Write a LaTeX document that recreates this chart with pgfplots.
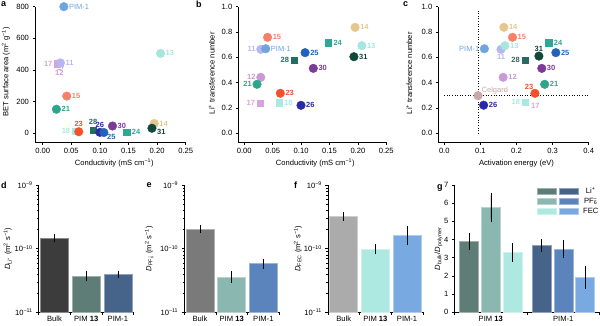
\documentclass[border=0pt]{standalone}
\usepackage{fontspec}
\setmainfont{Liberation Sans}
\usepackage{pgfplots}
\pgfplotsset{compat=1.18}

\definecolor{cPIM}{HTML}{70A4DE}
\definecolor{c11}{HTML}{B6B6F0}
\definecolor{c12}{HTML}{C99AD6}
\definecolor{c13}{HTML}{A6E6DE}
\definecolor{c14}{HTML}{E6C68C}
\definecolor{c15}{HTML}{F7806A}
\definecolor{c17}{HTML}{D8A2DC}
\definecolor{c18}{HTML}{A8EAE2}
\definecolor{c21}{HTML}{2AA68A}
\definecolor{c23}{HTML}{F5502A}
\definecolor{c24}{HTML}{2FA696}
\definecolor{c25}{HTML}{2462B8}
\definecolor{c26}{HTML}{2A2AA6}
\definecolor{c28}{HTML}{226E60}
\definecolor{c30}{HTML}{7C3A9A}
\definecolor{c31}{HTML}{10483A}
\definecolor{cCel}{HTML}{C8A8A8}
% bars
\definecolor{dB}{HTML}{3C3C3C}
\definecolor{dT}{HTML}{5E7D77}
\definecolor{dP}{HTML}{46638A}
\definecolor{eB}{HTML}{7A7A7A}
\definecolor{eT}{HTML}{8AB7B0}
\definecolor{eP}{HTML}{5A84BB}
\definecolor{fB}{HTML}{ABABAB}
\definecolor{fT}{HTML}{ADE9E1}
\definecolor{fP}{HTML}{79A9E1}

\newcommand{\tf}{\fontsize{7.6}{8.8}\selectfont}
\newcommand{\lbf}{\bfseries\fontsize{7.5}{8.5}\selectfont}

\tikzset{
  lR/.style={anchor=west, xshift=4.5pt},
  lL/.style={anchor=east, xshift=-4.5pt},
  lA/.style={anchor=south, yshift=4.2pt},
  lB/.style={anchor=north, yshift=-4.2pt},
  lBR/.style={anchor=north west, xshift=2.5pt, yshift=-1pt},
  lRd/.style={anchor=west, xshift=4.5pt, yshift=-4pt},
  lRs/.style={anchor=west, xshift=4.5pt, yshift=-2pt},
  lAL/.style={anchor=south east, xshift=-1pt, yshift=3pt},
  lAR/.style={anchor=south west, xshift=3pt, yshift=1pt},
}

\pgfplotsset{
  mC/.style={mark=*, mark size=4.3pt, mark options={draw=#1, fill=#1}},
  mS/.style={mark=square*, mark size=4.1pt, mark options={draw=white, fill=#1, line width=0.4pt}},
  base/.style={
    scale only axis,
    axis x line*=bottom, axis y line*=left,
    tick align=outside,
    major tick length=2.5pt, minor tick length=1.5pt,
    every tick/.style={black, line width=0.5pt},
    axis line style={black, line width=0.5pt},
    font=\tf,
    tick label style={font=\tf},
    /pgf/number format/assume math mode=true,
    clip=false,
  },
  ylab/.style 2 args={every axis y label/.style={at={(rel axis cs:0,#2)}, xshift=#1, rotate=90, anchor=center, font=\tf}},
  xlab/.style 2 args={every axis x label/.style={at={(rel axis cs:#1,0)}, yshift=#2, anchor=center, font=\tf}},
}

\newcommand{\pnt}[6]{\addplot[only marks, #1=#2, nodes near coords, point meta=explicit symbolic,
  every node near coord/.style={text=#2, font=\lbf, inner sep=0.5pt, #6}] coordinates {(#3,#4) [#5]};}

\newcommand{\lbar}[4]{\addplot[ybar, bar width=28pt, bar shift=0pt, fill=#1, draw=#1!60!white, line width=0.5pt,
  error bars/.cd, y dir=both, y explicit, error bar style={black,line width=0.5pt},
  error mark options={black, mark size=2.6pt, line width=0.5pt}] coordinates {(#2,#3) +- (0,#4)};}

\newcommand{\gbar}[4]{\addplot[ybar, bar width=19pt, bar shift=0pt, fill=#1, draw=#1!60!white, line width=0.5pt,
  error bars/.cd, y dir=both, y explicit, error bar style={black,line width=0.5pt},
  error mark options={black, mark size=2.6pt, line width=0.5pt}] coordinates {(#2,#3) +- (0,#4)};}

\begin{document}
\begin{tikzpicture}
\useasboundingbox (0,0) rectangle (600pt,325pt);

% panel letters
\node[font=\bfseries\fontsize{9}{10}\selectfont, anchor=north west, inner sep=0pt] at (1pt,324pt) {a};
\node[font=\bfseries\fontsize{9}{10}\selectfont, anchor=north west, inner sep=0pt] at (196pt,324pt) {b};
\node[font=\bfseries\fontsize{9}{10}\selectfont, anchor=north west, inner sep=0pt] at (403pt,324pt) {c};
\node[font=\bfseries\fontsize{9}{10}\selectfont, anchor=north west, inner sep=0pt] at (1pt,143pt) {d};
\node[font=\bfseries\fontsize{9}{10}\selectfont, anchor=north west, inner sep=0pt] at (146.5pt,143pt) {e};
\node[font=\bfseries\fontsize{9}{10}\selectfont, anchor=north west, inner sep=0pt] at (294pt,143pt) {f};
\node[font=\bfseries\fontsize{9}{10}\selectfont, anchor=north west, inner sep=0pt] at (437pt,141pt) {g};

% ---------------- a
\begin{axis}[base, at={(35pt,182.7pt)}, anchor=south west, width=150.7pt, height=135.6pt,
  xmin=-0.01346, xmax=0.25, ymin=-56.9, ymax=800,
  xtick={0,0.05,0.1,0.15,0.2,0.25}, ytick={0,200,400,600,800},
  xticklabel style={/pgf/number format/.cd, fixed, fixed zerofill, precision=2},
  xlabel={Conductivity (mS cm\textsuperscript{−1})},
  ylabel={BET surface area (m\textsuperscript{2} g\textsuperscript{−1})},
  xlab={0.526}{-21pt}, ylab={-29pt}{0.52}]
\pnt{mC}{cPIM}{0.037}{800}{\mdseries PIM-1}{lR}
\pnt{mC}{c13}{0.206}{505}{13}{lR}
\pnt{mC}{c12}{0.029}{428}{12}{lB}
\pnt{mS}{c17}{0.026}{440}{17}{lL}
\pnt{mC}{c11}{0.031}{445}{11}{lR}
\pnt{mC}{c15}{0.042}{235}{15}{lR}
\pnt{mC}{c21}{0.024}{152}{21}{lR}
\pnt{mS}{c18}{0.057}{15}{18}{lL}
\pnt{mC}{c23}{0.063}{10}{23}{lA}
\pnt{mS}{c28}{0.088}{22}{28}{lA}
\pnt{mC}{c26}{0.100}{6}{26}{lA}
\pnt{mC}{c25}{0.107}{5}{25}{lBR}
\pnt{mC}{c30}{0.122}{46}{30}{lR}
\pnt{mS}{c24}{0.147}{6}{24}{lR}
\pnt{mC}{c14}{0.195}{62}{14}{lR}
\pnt{mC}{c31}{0.191}{32}{31}{lRd}
\end{axis}

% ---------------- b
\begin{axis}[base, at={(238.3pt,182.7pt)}, anchor=south west, width=148pt, height=135.6pt,
  xmin=-0.01056, xmax=0.25, ymin=-0.071, ymax=1.0,
  xtick={0,0.05,0.1,0.15,0.2,0.25}, ytick={0,0.2,0.4,0.6,0.8,1.0},
  xticklabel style={/pgf/number format/.cd, fixed, fixed zerofill, precision=2},
  yticklabel style={/pgf/number format/.cd, fixed, fixed zerofill, precision=1},
  xlabel={Conductivity (mS cm\textsuperscript{−1})},
  ylabel={Li\textsuperscript{+} transference number},
  xlab={0.52}{-21pt}, ylab={-26.5pt}{0.51}]
\pnt{mC}{c14}{0.195}{0.837}{14}{lR}
\pnt{mC}{c15}{0.041}{0.758}{15}{lR}
\pnt{mS}{c24}{0.148}{0.716}{24}{lR}
\pnt{mC}{c13}{0.207}{0.692}{13}{lR}
\pnt{mC}{c11}{0.029}{0.663}{11}{lL}
\pnt{mC}{cPIM}{0.0377}{0.668}{\mdseries PIM-1}{lR}
\pnt{mC}{c25}{0.107}{0.637}{25}{lR}
\pnt{mC}{c31}{0.193}{0.605}{31}{lR}
\pnt{mS}{c28}{0.088}{0.579}{28}{lL}
\pnt{mC}{c30}{0.1215}{0.513}{30}{lR}
\pnt{mC}{c12}{0.029}{0.442}{12}{lL}
\pnt{mC}{c21}{0.0224}{0.387}{21}{lL}
\pnt{mC}{c23}{0.0634}{0.316}{23}{lR}
\pnt{mS}{c17}{0.028}{0.24}{17}{lL}
\pnt{mS}{c18}{0.061}{0.242}{18}{lR}
\pnt{mC}{c26}{0.0998}{0.221}{26}{lR}
\end{axis}

% ---------------- c
\begin{axis}[base, at={(438.3pt,182.7pt)}, anchor=south west, width=150.4pt, height=135.6pt,
  xmin=-0.0166, xmax=0.4, ymin=-0.071, ymax=1.0,
  xtick={0,0.1,0.2,0.3,0.4}, ytick={0,0.2,0.4,0.6,0.8,1.0},
  xticklabel style={/pgf/number format/.cd, fixed, fixed zerofill, precision=1},
  yticklabel style={/pgf/number format/.cd, fixed, fixed zerofill, precision=1},
  xlabel={Activation energy (eV)},
  ylabel={Li\textsuperscript{+} transference number},
  xlab={0.52}{-21pt}, ylab={-29pt}{0.51}]
\addplot[black, dotted, line width=0.6pt] coordinates {(0.093,0) (0.093,0.98)};
\addplot[black, dotted, line width=0.6pt] coordinates {(0,0.297) (0.4,0.297)};
\pnt{mC}{c14}{0.165}{0.837}{14}{lR}
\pnt{mC}{c15}{0.189}{0.758}{15}{lR}
\pnt{mS}{c24}{0.289}{0.716}{24}{lR}
\pnt{mC}{cPIM}{0.111}{0.668}{\mdseries PIM-1}{lL}
\pnt{mC}{c11}{0.157}{0.663}{11}{lB}
\pnt{mC}{c13}{0.168}{0.692}{13}{lR}
\pnt{mC}{c31}{0.262}{0.61}{31}{lA}
\pnt{mC}{c25}{0.309}{0.637}{25}{lR}
\pnt{mS}{c28}{0.2236}{0.579}{28}{lL}
\pnt{mC}{c30}{0.27}{0.513}{30}{lR}
\pnt{mC}{c12}{0.163}{0.442}{12}{lR}
\pnt{mC}{c23}{0.251}{0.316}{23}{lAL}
\pnt{mC}{c21}{0.278}{0.387}{21}{lR}
\pnt{mC}{cCel}{0.0934}{0.297}{\mdseries Celgard}{lAR}
\pnt{mC}{c26}{0.109}{0.222}{26}{lR}
\pnt{mS}{c17}{0.226}{0.235}{17}{lRs}
\pnt{mS}{c18}{0.224}{0.247}{18}{lL}
\end{axis}

% ---------------- d
\begin{axis}[base, at={(38.7pt,12.7pt)}, anchor=south west, width=95pt, height=127.3pt,
  ymode=log, ymin=1e-11, ymax=1e-9, log origin=infty,
  xmin=-0.5, xmax=2.5,
  xtick={-0.5,0.5,1.5,2.5}, xticklabels={},
  extra x ticks={0,1,2},
  extra x tick labels={Bulk,PIM \textbf{13},PIM-1},
  extra x tick style={major tick length=0pt},
  ytick={1e-11,1e-10,1e-9},
  yticklabels={10\textsuperscript{−11},10\textsuperscript{−10},10\textsuperscript{−9}},
  minor ytick={2e-11,3e-11,4e-11,5e-11,6e-11,7e-11,8e-11,9e-11,2e-10,3e-10,4e-10,5e-10,6e-10,7e-10,8e-10,9e-10},
  ylabel={\textit{D}\textsubscript{Li\textsuperscript{+}} (m\textsuperscript{2} s\textsuperscript{−1})},
  ylab={-31pt}{0.5}]
\lbar{dB}{0}{1.47e-10}{0.07e-10}
\lbar{dT}{1}{3.75e-11}{0.35e-11}
\lbar{dP}{2}{3.95e-11}{0.15e-11}
\end{axis}

% ---------------- e
\begin{axis}[base, at={(184.2pt,12.7pt)}, anchor=south west, width=95pt, height=127.3pt,
  ymode=log, ymin=1e-11, ymax=1e-9, log origin=infty,
  xmin=-0.5, xmax=2.5,
  xtick={-0.5,0.5,1.5,2.5}, xticklabels={},
  extra x ticks={0,1,2},
  extra x tick labels={Bulk,PIM \textbf{13},PIM-1},
  extra x tick style={major tick length=0pt},
  ytick={1e-11,1e-10,1e-9},
  yticklabels={10\textsuperscript{−11},10\textsuperscript{−10},10\textsuperscript{−9}},
  minor ytick={2e-11,3e-11,4e-11,5e-11,6e-11,7e-11,8e-11,9e-11,2e-10,3e-10,4e-10,5e-10,6e-10,7e-10,8e-10,9e-10},
  ylabel={\textit{D}\textsubscript{PF\textsubscript{6}\llap{\textsuperscript{−}}} (m\textsuperscript{2} s\textsuperscript{−1})},
  ylab={-35pt}{0.5}]
\lbar{eB}{0}{2.05e-10}{0.1e-10}
\lbar{eT}{1}{3.6e-11}{0.4e-11}
\lbar{eP}{2}{5.8e-11}{0.5e-11}
\end{axis}

% ---------------- f
\begin{axis}[base, at={(327.9pt,12.7pt)}, anchor=south west, width=95pt, height=127.3pt,
  ymode=log, ymin=1e-11, ymax=1e-9, log origin=infty,
  xmin=-0.5, xmax=2.5,
  xtick={-0.5,0.5,1.5,2.5}, xticklabels={},
  extra x ticks={0,1,2},
  extra x tick labels={Bulk,PIM \textbf{13},PIM-1},
  extra x tick style={major tick length=0pt},
  ytick={1e-11,1e-10,1e-9},
  yticklabels={10\textsuperscript{−11},10\textsuperscript{−10},10\textsuperscript{−9}},
  minor ytick={2e-11,3e-11,4e-11,5e-11,6e-11,7e-11,8e-11,9e-11,2e-10,3e-10,4e-10,5e-10,6e-10,7e-10,8e-10,9e-10},
  ylabel={\textit{D}\textsubscript{FEC} (m\textsuperscript{2} s\textsuperscript{−1})},
  ylab={-30pt}{0.5}]
\lbar{fB}{0}{3.2e-10}{0.2e-10}
\lbar{fT}{1}{9.8e-11}{0.9e-11}
\lbar{fP}{2}{1.65e-10}{0.4e-10}
\end{axis}

% ---------------- g
\begin{axis}[base, at={(454.5pt,12.7pt)}, anchor=south west, width=145pt, height=127.3pt,
  xmin=-0.5, xmax=1.5, ymin=0, ymax=7,
  xtick={-0.5,0.5,1.5}, xticklabels={},
  extra x ticks={0,1}, extra x tick labels={PIM \textbf{13},PIM-1},
  extra x tick style={major tick length=0pt},
  ytick={0,1,2,3,4,5,6,7},
  ylabel={\textit{D}\textsubscript{bulk}/\textit{D}\textsubscript{polymer}},
  ylab={-16pt}{0.5},
  legend columns=2,
  legend image code/.code={\fill[#1] (0pt,-3pt) rectangle (19pt,3pt);},
  legend style={at={(rel axis cs:0.565,0.985)}, anchor=north west, draw=none, fill=none,
    inner sep=0pt, column sep=1pt, row sep=2pt, font=\tf, nodes={inner sep=0.5pt}}]
\gbar{dT}{-0.3}{3.9}{0.32}
\addlegendentry{\hspace*{0pt}}
\gbar{dP}{0.7}{3.68}{0.2}
\addlegendentry{\hspace*{3pt}Li\textsuperscript{+}}
\gbar{eT}{0}{5.78}{0.66}
\addlegendentry{\hspace*{0pt}}
\gbar{eP}{1}{3.48}{0.33}
\addlegendentry{\hspace*{3pt}PF\textsubscript{6}\llap{\textsuperscript{−}}}
\gbar{fT}{0.3}{3.28}{0.37}
\addlegendentry{\hspace*{0pt}}
\gbar{fP}{1.3}{1.92}{0.48}
\addlegendentry{\hspace*{3pt}FEC}
\end{axis}
\end{tikzpicture}
\end{document}
